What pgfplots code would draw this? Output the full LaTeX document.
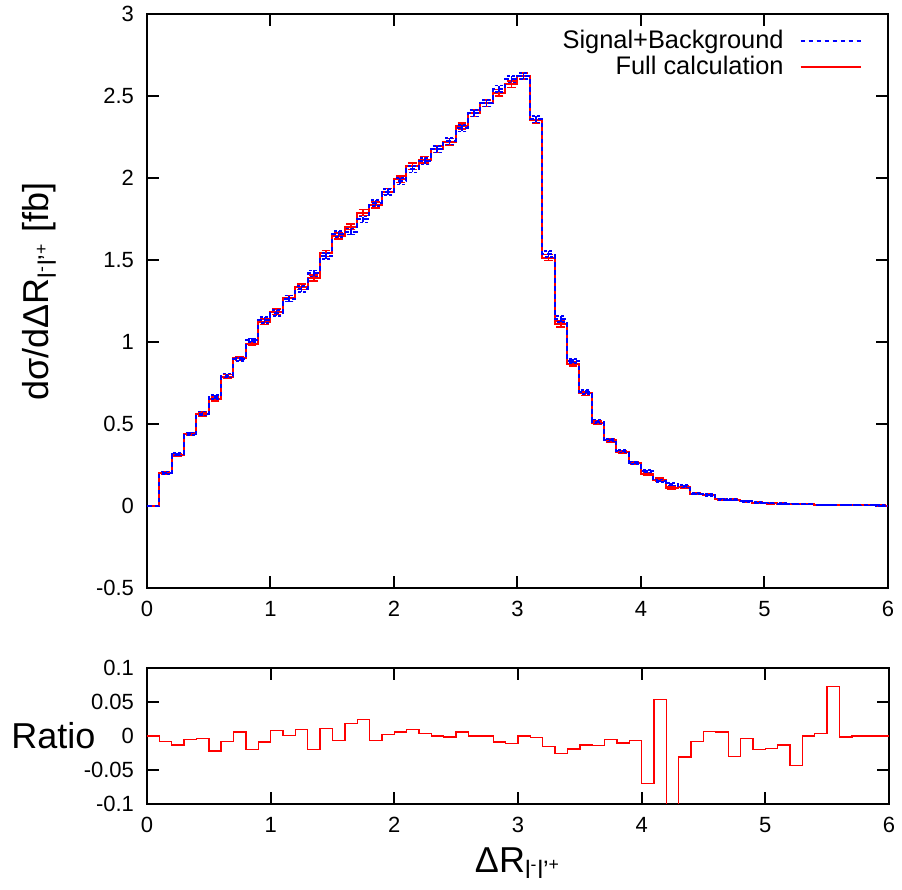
\documentclass[border=0pt]{standalone}
\usepackage{fontspec}
\setmainfont{Liberation Sans}
\usepackage{pgfplots}
\pgfplotsset{compat=1.18}
\usepackage{pgfplotstable}

% left bin edge, full calculation, signal+background, ratio
\pgfplotstableread{
x    y      yb      r
0.0  0.000  0.000   0.000
0.1  0.200  0.2016 -0.008
0.2  0.311  0.3151 -0.013
0.3  0.439  0.4412 -0.005
0.4  0.561  0.5633 -0.004
0.5  0.651  0.6656 -0.022
0.6  0.789  0.7954 -0.008
0.7  0.900  0.8946  0.006
0.8  0.990  1.0102 -0.020
0.9  1.124  1.1342 -0.009
1.0  1.185  1.1756  0.008
1.1  1.266  1.2647  0.001
1.2  1.337  1.3238  0.010
1.3  1.390  1.4184 -0.020
1.4  1.540  1.5232  0.011
1.5  1.646  1.6576 -0.007
1.6  1.703  1.6729  0.018
1.7  1.789  1.7471  0.024
1.8  1.835  1.8479 -0.007
1.9  1.917  1.9132  0.002
2.0  1.992  1.9801  0.006
2.1  2.073  2.0525  0.010
2.2  2.110  2.1016  0.004
2.3  2.175  2.1750  0.000
2.4  2.220  2.2233 -0.0015
2.5  2.317  2.3032  0.006
2.6  2.394  2.3940  0.000
2.7  2.455  2.4550  0.000
2.8  2.520  2.5429 -0.009
2.9  2.573  2.6016 -0.011
3.0  2.622  2.6220  0.000
3.1  2.354  2.3587 -0.002
3.2  1.515  1.5381 -0.015
3.3  1.110  1.1396 -0.026
3.4  0.866  0.8828 -0.019
3.5  0.687  0.6960 -0.013
3.6  0.508  0.5152 -0.014
3.7  0.400  0.4020 -0.005
3.8  0.331  0.3343 -0.010
3.9  0.262  0.2638 -0.007
4.0  0.197  0.2118 -0.070
4.1  0.161  0.1527  0.054
4.2  0.112  0.1318 -0.150
4.3  0.116  0.1197 -0.031
4.4  0.075  0.0756 -0.008
4.5  0.068  0.0675  0.007
4.6  0.042  0.0417  0.006
4.7  0.037  0.0381 -0.030
4.8  0.030  0.0301 -0.004
4.9  0.020  0.0204 -0.020
5.0  0.017  0.0173 -0.018
5.1  0.014  0.0142 -0.013
5.2  0.012  0.0125 -0.043
5.3  0.010  0.0100  0.000
5.4  0.008  0.0080  0.004
5.5  0.007  0.0065  0.073
5.6  0.006  0.0060 -0.0015
5.7  0.005  0.0050  0.000
5.8  0.004  0.0040  0.000
5.9  0.003  0.0030  0.000
6.0  0.003  0.0030  0.000
}\histdata

% bin centre, full calculation, error, signal+background
\pgfplotstableread{
xc    y      e      yb
0.15  0.200  0.008  0.2016
0.25  0.311  0.008  0.3151
0.35  0.439  0.008  0.4412
0.45  0.561  0.012  0.5633
0.55  0.651  0.012  0.6656
0.65  0.789  0.012  0.7954
0.75  0.900  0.012  0.8946
0.85  0.990  0.012  1.0102
0.95  1.124  0.018  1.1342
1.05  1.185  0.018  1.1756
1.15  1.266  0.018  1.2647
1.25  1.337  0.018  1.3238
1.35  1.390  0.018  1.4184
1.45  1.540  0.018  1.5232
1.55  1.646  0.018  1.6576
1.65  1.703  0.018  1.6729
1.75  1.789  0.018  1.7471
1.85  1.835  0.018  1.8479
1.95  1.917  0.018  1.9132
2.05  1.992  0.020  1.9801
2.15  2.073  0.020  2.0525
2.25  2.110  0.020  2.1016
2.35  2.175  0.020  2.1750
2.45  2.220  0.020  2.2233
2.55  2.317  0.020  2.3032
2.65  2.394  0.020  2.3940
2.75  2.455  0.020  2.4550
2.85  2.520  0.020  2.5429
2.95  2.573  0.020  2.6016
3.05  2.622  0.020  2.6220
3.15  2.354  0.020  2.3587
3.25  1.515  0.018  1.5381
3.35  1.110  0.018  1.1396
3.45  0.866  0.012  0.8828
3.55  0.687  0.012  0.6960
3.65  0.508  0.012  0.5152
3.75  0.400  0.008  0.4020
3.85  0.331  0.008  0.3343
3.95  0.262  0.008  0.2638
4.05  0.197  0.008  0.2118
4.15  0.161  0.008  0.1527
4.25  0.112  0.008  0.1318
4.35  0.116  0.008  0.1197
4.45  0.075  0.005  0.0756
4.55  0.068  0.005  0.0675
4.65  0.042  0.004  0.0417
4.75  0.037  0.004  0.0381
4.85  0.030  0.004  0.0301
4.95  0.020  0.003  0.0204
5.05  0.017  0.003  0.0173
5.15  0.014  0.003  0.0142
5.25  0.012  0.003  0.0125
5.35  0.010  0.002  0.0100
5.45  0.008  0.002  0.0080
5.55  0.007  0.002  0.0065
5.65  0.006  0.002  0.0060
5.75  0.005  0.002  0.0050
5.85  0.004  0.002  0.0040
5.95  0.003  0.002  0.0030
}\errdata

\pgfplotsset{
  myaxis/.style={
    scale only axis,
    xmin=0, xmax=6,
    xtick={0,1,2,3,4,5,6},
    axis line style={line width=1pt},
    major tick style={line width=1pt, black},
    major tick length=6pt,
    tick align=inside,
    /pgf/number format/assume math mode=true,
    ticklabel style={font=\fontsize{11}{13}\selectfont},
    xticklabel style={yshift=-3pt},
    yticklabel style={xshift=-3pt},
  }
}

\begin{document}
\begin{tikzpicture}
\useasboundingbox (-73.5pt,-151pt) rectangle (377.5pt,294pt);

\begin{axis}[myaxis,
  at={(0,0)}, anchor=south west,
  width=370.5pt, height=287pt,
  ymin=-0.5, ymax=3,
  ytick={-0.5,0,0.5,1,1.5,2,2.5,3},
  yticklabels={-0.5,0,0.5,1,1.5,2,2.5,3},
  every axis y label/.style={at={(axis description cs:-0.145,0.517)}, rotate=90, anchor=center},
  ylabel={\fontsize{18}{20}\selectfont dσ/dΔR\textsubscript{l\textsuperscript{-}l'\textsuperscript{+}} [fb]},
  legend style={draw=none, fill=none, at={(rel axis cs:1,1)}, anchor=north east,
    xshift=-10pt, yshift=-4pt, font=\fontsize{12.7}{13.5}\selectfont,
    cells={anchor=east}, row sep=-2pt,
    /tikz/every odd column/.append style={column sep=6pt}},
  legend plot pos=right,
  legend image code/.code={\draw[#1] (0pt,0pt) -- (30pt,0pt);},
]
\addlegendimage{blue, line width=1pt, dash pattern=on 2.3pt off 1.7pt}
\addlegendentry{Signal+Background}
\addlegendimage{red, line width=1pt}
\addlegendentry{Full calculation}

\addplot[forget plot, red, line width=1pt, const plot] table[x=x, y=y]{\histdata};
\addplot[forget plot, draw=none, mark=none,
  error bars/.cd, y dir=both, y explicit,
  error bar style={draw=red, line width=0.8pt, solid},
  error mark options={draw=red, mark size=2.2pt, line width=0.8pt, rotate=90, solid}]
  table[x=xc, y=y, y error=e]{\errdata};
\addplot[forget plot, blue, line width=1pt, dash pattern=on 2.3pt off 1.7pt, const plot] table[x=x, y=yb]{\histdata};
\addplot[forget plot, draw=none, mark=none,
  error bars/.cd, y dir=both, y explicit,
  error bar style={draw=blue, line width=0.8pt, dash pattern=on 1.5pt off 1pt},
  error mark options={draw=blue, mark size=2.2pt, line width=0.8pt, dash pattern=on 1.5pt off 1pt, rotate=90}]
  table[x=xc, y=yb, y error=e]{\errdata};
\end{axis}

\begin{axis}[myaxis,
  at={(0,-40pt)}, anchor=north west,
  width=371pt, height=68pt,
  ymin=-0.1, ymax=0.1,
  ytick={-0.1,-0.05,0,0.05,0.1},
  yticklabels={-0.1,-0.05,0,0.05,0.1},
  every axis y label/.style={at={(axis description cs:-0.126,0.5)}, anchor=center},
  ylabel={\fontsize{18}{20}\selectfont Ratio},
  every axis x label/.style={at={(axis description cs:0.5,-0.5)}, anchor=base},
  xlabel={\fontsize{18}{20}\selectfont ΔR\textsubscript{l\textsuperscript{-}l'\textsuperscript{+}}},
]
\addplot[red, line width=0.7pt, const plot] table[x=x, y=r]{\histdata};
\end{axis}
\end{tikzpicture}
\end{document}
